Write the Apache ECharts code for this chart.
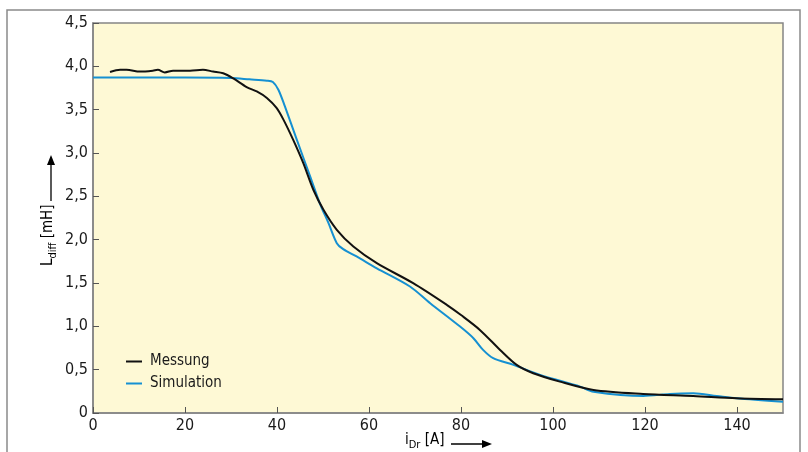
<!DOCTYPE html>
<html>
<head>
<meta charset="utf-8">
<script src="https://cdn.jsdelivr.net/npm/echarts@6/dist/echarts.min.js"></script>
<style>
  html, body { margin: 0; padding: 0; background: #fff; }
  #chart { width: 808px; height: 452px; }
</style>
</head>
<body>
<div id="chart"></div>
<script>
// Messung (black)
var messX = [3.7, 5.9, 7.3, 10.2, 13, 14.1, 15.6, 17.4, 21.1, 23.9, 26.1, 28.3, 30.5, 33.4, 35.6, 37.8, 39.9, 41.4, 43.5, 45.7, 47.9, 50.1, 53, 56.6, 61.7, 69.6, 76.9, 80, 84.1, 88.5, 92.1, 95.7, 101.5, 108.8, 119.6, 130.5, 139.9, 150];
var messY = [3.935, 3.96, 3.96, 3.94, 3.95, 3.96, 3.93, 3.95, 3.95, 3.96, 3.94, 3.92, 3.86, 3.76, 3.71, 3.635, 3.52, 3.385, 3.154, 2.885, 2.576, 2.345, 2.114, 1.921, 1.729, 1.498, 1.248, 1.13, 0.959, 0.728, 0.555, 0.459, 0.362, 0.266, 0.22, 0.196, 0.17, 0.158];
// Simulation (blue)
var simX = [0, 10, 20, 30, 34, 37.8, 39.1, 40.3, 41.7, 44.3, 47.2, 49.3, 51.2, 53, 54.4, 57.3, 61.7, 68.9, 73.3, 79.8, 82.7, 84.8, 87, 91.4, 97.2, 105.9, 108.8, 119.6, 125.4, 130.5, 135.6, 139.9, 150];
var simY = [3.87, 3.87, 3.87, 3.865, 3.85, 3.835, 3.82, 3.73, 3.54, 3.154, 2.73, 2.42, 2.19, 1.96, 1.89, 1.806, 1.67, 1.46, 1.267, 0.997, 0.863, 0.728, 0.632, 0.555, 0.439, 0.304, 0.246, 0.196, 0.22, 0.227, 0.196, 0.17, 0.13];
var seriesNames = ['Messung', 'Simulation'];

var font = '"Liberation Sans Narrow", "DejaVu Sans Condensed", sans-serif';

function pairs(xs, ys) {
  var out = [];
  for (var i = 0; i < xs.length; i++) out.push([xs[i], ys[i]]);
  return out;
}

var chart = echarts.init(document.getElementById('chart'));

var nameRich = {
  a: { fontFamily: font, fontSize: 15, color: '#1a1a1a', lineHeight: 18, verticalAlign: 'top' },
  b: { fontFamily: font, fontSize: 11, color: '#1a1a1a', lineHeight: 12, verticalAlign: 'bottom' }
};

option = {
  backgroundColor: '#fff',
  animation: false,
  grid: {
    left: 93, top: 23, right: 25, bottom: 39,
    show: true,
    backgroundColor: '#fef9d5',
    borderColor: '#858585',
    borderWidth: 1.5
  },
  legend: {
    data: seriesNames,
    orient: 'vertical',
    left: 121,
    top: 349,
    icon: 'rect',
    itemWidth: 16,
    itemHeight: 2,
    itemGap: 7,
    textStyle: { fontFamily: font, fontSize: 15, color: '#1a1a1a', padding: [0, 0, 0, 3] }
  },
  xAxis: {
    type: 'value',
    min: 0, max: 150, interval: 20,
    axisLine: { lineStyle: { color: '#858585', width: 1.5 } },
    axisTick: { inside: true, length: 6, lineStyle: { color: '#555' } },
    axisLabel: { fontFamily: font, fontSize: 16, color: '#1a1a1a', margin: 5, showMaxLabel: false },
    splitLine: { show: false }
  },
  yAxis: {
    type: 'value',
    min: 0, max: 4.5, interval: 0.5,
    axisLine: { show: true, lineStyle: { color: '#858585', width: 1.5 } },
    axisTick: { show: true, inside: true, length: 6, lineStyle: { color: '#555' } },
    axisLabel: {
      fontFamily: font, fontSize: 16, color: '#1a1a1a', margin: 5,
      formatter: function(v) { return v === 0 ? '0' : v.toFixed(1).replace('.', ','); }
    },
    splitLine: { show: false }
  },
  graphic: [
    { type: 'rect', shape: { x: 7, y: 10, width: 793, height: 470 }, style: { fill: 'none', stroke: '#8a8a8a', lineWidth: 1.5 }, z: -1 },
    // x axis name + arrow
    { type: 'text', left: 405, top: 433, style: { text: '{a|i}{b|Dr}{a| [A]}', rich: nameRich } },
    { type: 'line', shape: { x1: 451, y1: 444, x2: 485, y2: 444 }, style: { stroke: '#000', lineWidth: 1.3 } },
    { type: 'polygon', shape: { points: [[492, 444], [482, 440], [482, 448]] }, style: { fill: '#000' } },
    // y axis name + arrow
    {
      type: 'text', x: 41, y: 266, rotation: Math.PI / 2,
      style: { text: '{a|L}{b|diff}{a| [mH]}', rich: nameRich }
    },
    { type: 'line', shape: { x1: 51, y1: 201, x2: 51, y2: 163 }, style: { stroke: '#000', lineWidth: 1.3 } },
    { type: 'polygon', shape: { points: [[51, 155], [47, 165], [55, 165]] }, style: { fill: '#000' } }
  ],
  series: [
    {
      name: seriesNames[0], type: 'line', data: pairs(messX, messY),
      smooth: 0.3, showSymbol: false, symbol: 'none',
      lineStyle: { color: '#111', width: 2 }, itemStyle: { color: '#111' }, z: 3
    },
    {
      name: seriesNames[1], type: 'line', data: pairs(simX, simY),
      smooth: 0.3, showSymbol: false, symbol: 'none',
      lineStyle: { color: '#1590d2', width: 2 }, itemStyle: { color: '#1590d2' }, z: 2
    }
  ]
};

chart.setOption(option);
</script>
</body>
</html>
